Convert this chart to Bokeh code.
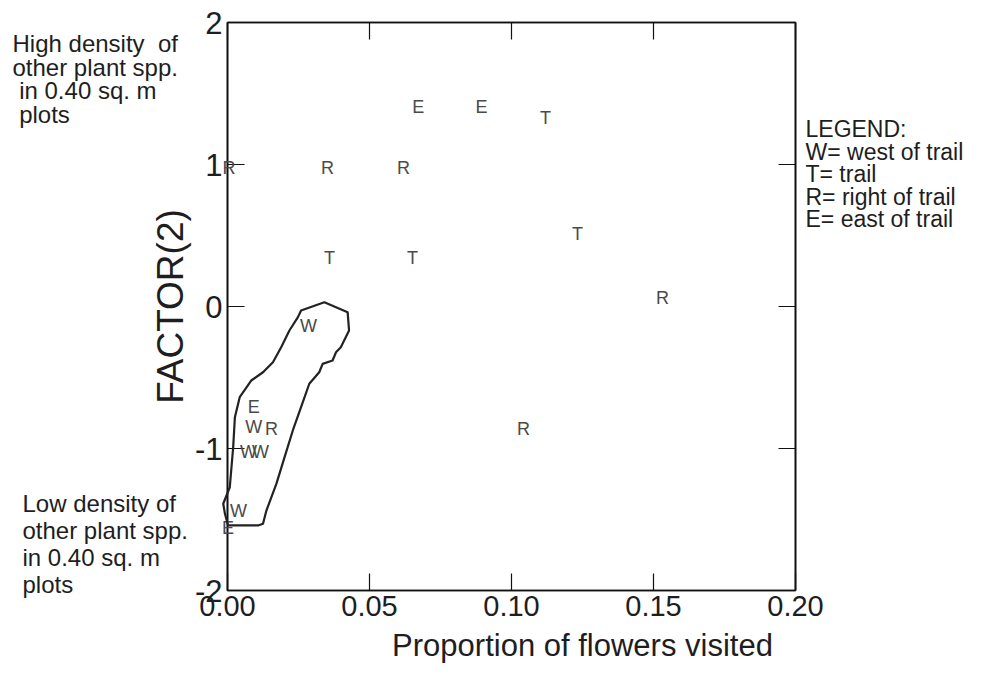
from bokeh.plotting import figure
from bokeh.models import LinearAxis, FixedTicker, Range1d, ColumnDataSource
from bokeh.core.properties import value
from bokeh.embed import file_html
from bokeh.resources import INLINE

# ---------------- data ----------------
site_codes = ["R", "R", "R", "T", "T", "T", "E", "E", "T", "R", "R",
              "W", "E", "W", "R", "W", "W", "W", "E"]
flowers_visited = [0.0005, 0.0352, 0.0620, 0.0359, 0.0651, 0.1232, 0.0672, 0.0894,
                   0.1120, 0.1532, 0.1042, 0.0285, 0.0092, 0.0092, 0.0155, 0.0074,
                   0.0116, 0.0039, 0.0002]
factor2 = [0.972, 0.972, 0.972, 0.345, 0.345, 0.514, 1.408, 1.408,
           1.324, 0.063, -0.866, -0.134, -0.711, -0.852, -0.866, -1.028,
           -1.028, -1.437, -1.563]

# hand-drawn outline around the W group
outline_x = [0.0259, 0.0341, 0.0423, 0.0428, 0.0399, 0.0382, 0.0370, 0.0335,
             0.0323, 0.0288, 0.0259, 0.0230, 0.0201, 0.0172, 0.0137, 0.0125,
             0.0108, 0.0002, -0.0009, -0.0015, 0.0008, 0.0014, 0.0020, 0.0026,
             0.0043, 0.0084, 0.0125, 0.0160, 0.0189, 0.0218, 0.0248]
outline_y = [-0.028, 0.030, -0.040, -0.169, -0.287, -0.322, -0.380, -0.404,
             -0.463, -0.544, -0.709, -0.873, -1.061, -1.249, -1.437, -1.530,
             -1.542, -1.542, -1.460, -1.389, -1.273, -1.132, -0.991, -0.780,
             -0.639, -0.521, -0.463, -0.392, -0.287, -0.169, -0.075]

x_ticks = [0.0, 0.05, 0.10, 0.15, 0.20]
x_tick_labels = ["0.00", "0.05", "0.10", "0.15", "0.20"]
y_ticks = [-2, -1, 0, 1, 2]
y_tick_labels = ["-2", "-1", "0", "1", "2"]

x_title = "Proportion of flowers visited"
y_title = "FACTOR(2)"
NB = "\u00a0"
high_note = ["High density" + NB + NB + "of", "other plant spp.",
             NB + "in 0.40 sq. m", NB + "plots"]
low_note = ["Low density of", "other plant spp.", "in 0.40 sq. m", "plots"]
legend_lines = ["LEGEND:", "W= west of trail", "T= trail", "R= right of trail", "E= east of trail"]

# ---------------- layout ----------------
FONT = "Liberation Sans"
INK = "#1e1e1e"
FRAME_L, FRAME_T, FRAME_W, FRAME_H = 227, 22, 568, 568
FIG_W, FIG_H = 972, 666

p = figure(frame_width=FRAME_W, frame_height=FRAME_H,
           x_range=Range1d(0.0, 0.2), y_range=Range1d(-2, 2),
           min_border_left=FRAME_L, min_border_top=FRAME_T,
           min_border_right=FIG_W - FRAME_L - FRAME_W,
           min_border_bottom=FIG_H - FRAME_T - FRAME_H,
           y_axis_label=y_title,
           output_backend="svg", toolbar_location=None)
p.xgrid.visible = False
p.ygrid.visible = False
p.background_fill_color = "white"
p.border_fill_color = "white"
p.outline_line_color = "#111111"
p.outline_line_width = 1.6


def style_axis(ax, ticks, labels, size):
    ax.ticker = FixedTicker(ticks=ticks)
    ax.major_label_overrides = {t: l for t, l in zip(ticks, labels)}
    ax.major_tick_in = 17
    ax.major_tick_out = 0
    ax.minor_tick_line_color = None
    ax.axis_line_color = "#111111"
    ax.axis_line_width = 1.6
    ax.major_tick_line_color = "#111111"
    ax.major_tick_line_width = 1.2
    ax.major_label_text_font = FONT
    ax.major_label_text_font_size = size
    ax.major_label_text_color = INK
    ax.axis_label_text_font = FONT
    ax.axis_label_text_font_style = "normal"
    ax.axis_label_text_font_size = "37px"
    ax.axis_label_text_color = INK


style_axis(p.xaxis[0], x_ticks, x_tick_labels, "29px")
style_axis(p.yaxis[0], y_ticks, y_tick_labels, "31px")
p.xaxis[0].major_label_standoff = 5
p.yaxis[0].major_label_standoff = 5
p.yaxis[0].axis_label_standoff = 1

top_ax = LinearAxis()
right_ax = LinearAxis()
style_axis(top_ax, x_ticks, ["" for _ in x_ticks], "1px")
style_axis(right_ax, y_ticks, ["" for _ in y_ticks], "1px")
for ax in (top_ax, right_ax):
    ax.major_label_standoff = 0
p.add_layout(top_ax, "above")
p.add_layout(right_ax, "right")

# letters marking each plot
src = ColumnDataSource(dict(x=flowers_visited, y=factor2, t=site_codes))
r = p.text(x="x", y="y", text="t", source=src, text_font=value(FONT),
           text_font_size="18px", text_color="#4a4a4a",
           text_align="center", text_baseline="middle")
r.level = "overlay"

ol = p.patch(x=outline_x, y=outline_y, fill_color=None, line_color="#222222",
             line_width=2.2, line_join="round")
ol.level = "overlay"


# texts outside the frame, positioned in picture pixels converted to data space
def dx(px):
    return (px - FRAME_L) / FRAME_W * 0.2


def dy(py):
    return 2 - (py - FRAME_T) / FRAME_H * 4


def add_block(lines, px, pys, size, align="left"):
    t = p.text(x=[dx(px)] * len(lines), y=[dy(v) for v in pys], text=lines,
               text_font=value(FONT), text_font_size=size, text_color=INK,
               text_align=align, text_baseline="middle")
    t.level = "overlay"


add_block(high_note, 12, [43, 67, 90, 114], "24px")
add_block(low_note, 22, [503, 530, 557, 584], "24px")
add_block(legend_lines, 805, [128, 151, 173, 196, 218], "23px")
add_block([x_title], 582, [645], "31px", align="center")

open("out.html", "w").write(file_html(p, INLINE))
